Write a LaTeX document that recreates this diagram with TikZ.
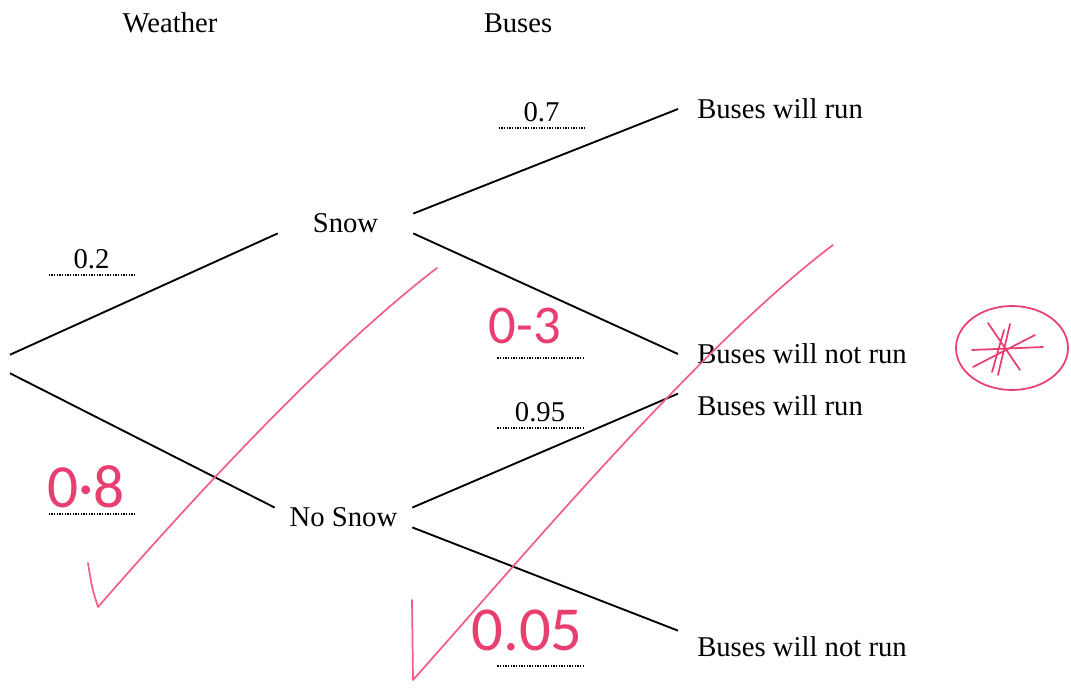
\documentclass[tikz,border=0pt]{standalone}
\usepackage{fontspec}
\setmainfont{Liberation Serif}
\newfontfamily\handfont{Carlito}
\definecolor{pen}{RGB}{232,62,112}
\definecolor{penlight}{RGB}{240,96,132}

\begin{document}
\begin{tikzpicture}[x=0.75pt,y=-0.75pt,
    every node/.style={font=\fontsize{21.5}{24}\selectfont},
    branch/.style={line width=1.4pt},
    event/.style={inner sep=0pt},
    leaf/.style={anchor=west,inner xsep=14.25pt,inner ysep=0pt},
    prob/.style={anchor=south,minimum width=63.75pt,inner xsep=0pt,inner ysep=4.5pt},
    dotline/.style={line width=1pt,dash pattern=on 1pt off 1pt},
    hand/.style={text=pen,inner sep=0pt},
    pen/.style={draw=penlight,line width=1.3pt,line cap=round,line join=round}]
\useasboundingbox (0,0) rectangle (1071,691);

% headings
\node[anchor=base] (hw) at (170,33) {Weather};
\node[anchor=base] (hb) at (518,33) {Buses};

% tree
\node[event,minimum height=13.5pt] (root) at (10,364) {};
\node[event,minimum width=101.25pt,minimum height=12.75pt] (snow) at (345.5,223.5) {Snow};
\node[event,minimum width=102.75pt,minimum height=11.25pt] (nosnow) at (343.5,517.5) {No Snow};
\node[leaf] (run1) at (678,109) {Buses will run};
\node[leaf] (norun1) at (678,354) {Buses will not run};
\node[leaf] (run2) at (678,406) {Buses will run};
\node[leaf] (norun2) at (678,647) {Buses will not run};

\draw[branch]
    (root.north) -- (snow.south west)
    (root.south) -- (nosnow.north west)
    (snow.north east) -- (run1.west)
    (snow.south east) -- (norun1.west)
    (nosnow.north east) -- ([yshift=1.5pt]run2.north west)
    (nosnow.south east) -- ([yshift=4.5pt]norun2.north west);

% probabilities
\node[prob] (psnow) at (91.5,275) {0.2};
\node[prob] (pnosnow) at (91.5,514) {};
\node[prob] (prun1) at (541.5,128) {0.7};
\node[prob] (pnorun1) at (540,358) {};
\node[prob] (prun2) at (540,428) {0.95};
\node[prob] (pnorun2) at (540,666) {};
\foreach \p in {psnow,pnosnow,prun1,pnorun1,prun2,pnorun2}
    \draw[dotline] (\p.south west) -- (\p.south east);

% marking in red
\node[hand,font=\handfont\fontsize{41}{41}\selectfont] (m3) at (525,326) {0-3};
\node[hand,font=\handfont\fontsize{46}{46}\selectfont] (m8) at (86,487) {0·8};
\node[hand,font=\handfont\fontsize{47}{47}\selectfont] (m05) at (527,630) {0.05};

\draw[pen] (88,563) .. controls (92,588) .. (98,607)
    .. controls (200,490) and (330,350) .. (437,268);
\draw[pen] (412,600) .. controls (412,640) .. (413,680)
    .. controls (520,560) and (700,345) .. (833,245);

\draw[pen,draw=pen] (1012,348) ellipse[x radius=56,y radius=42];
\draw[pen,draw=pen]
    (988,323) -- (1020,370)
    (1010,324) -- (998,375)
    (972,350) -- (1043,347)
    (973,367) -- (1035,335)
    (1004,330) -- (992,372);
\end{tikzpicture}
\end{document}
